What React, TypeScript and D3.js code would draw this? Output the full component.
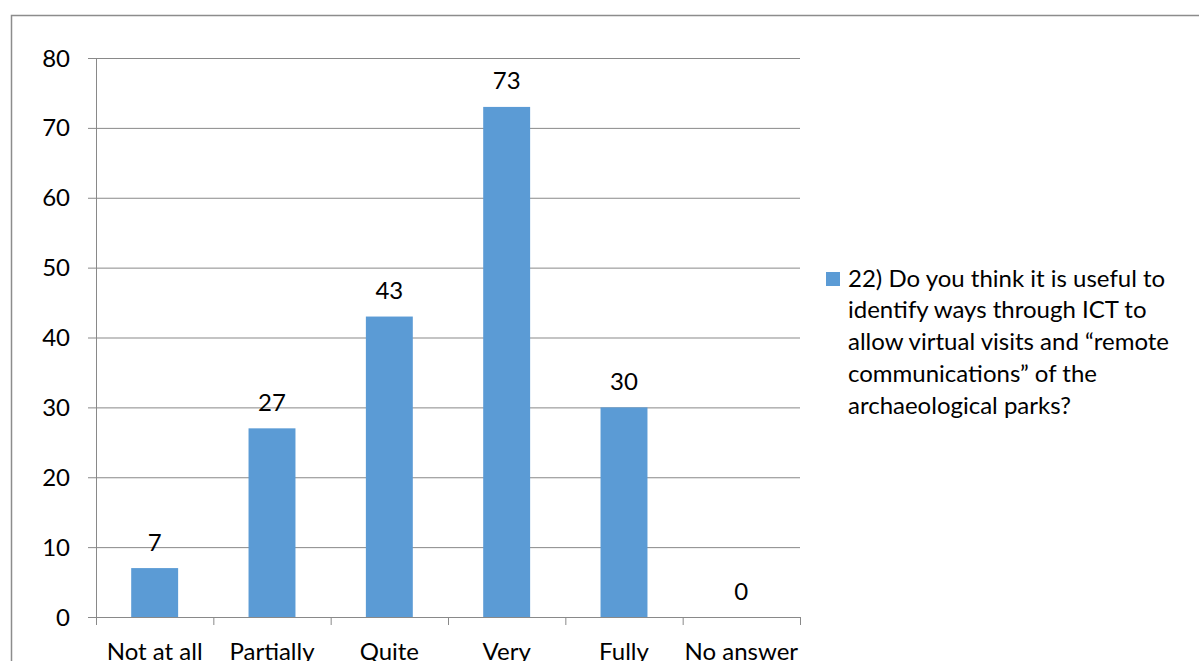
import React from "react";
import * as d3 from "d3";

const categories = ["Not at all", "Partially", "Quite", "Very", "Fully", "No answer"];
const values = [7, 27, 43, 73, 30, 0];
const yTicks = [0, 10, 20, 30, 40, 50, 60, 70, 80];
const legendLines = [
  "22) Do you think it is useful to",
  "identify ways through ICT to",
  "allow virtual visits and \u201cremote",
  "communications\u201d of the",
  "archaeological parks?",
];

const W = 1199;
const H = 661;
const plot = { left: 96, right: 800, top: 58, bottom: 617 };
const barColor = "#5b9bd5";
const gridColor = "#898989";
const font = "Lato, 'Open Sans', sans-serif";
const fs = 24;

export default function App() {
  const x = d3.scaleBand<string>().domain(categories).range([plot.left, plot.right]).paddingInner(0.6).paddingOuter(0.3);
  const xOuter = d3.scaleBand<string>().domain(categories).range([plot.left, plot.right]);
  const y = d3.scaleLinear().domain([0, 80]).range([plot.bottom, plot.top]);

  return (
    <svg width={W} height={H} style={{ position: "absolute", left: 0, top: 0, background: "#fff" }} fontFamily={font}>
      <rect x={11.5} y={15.5} width={W + 10} height={H + 10} fill="none" stroke="#8c8c8c" strokeWidth={1.5} />
      {yTicks.map((t) => (
        <g key={t}>
          <line x1={plot.left - 8} x2={plot.right} y1={y(t) + 0.5} y2={y(t) + 0.5} stroke={gridColor} strokeWidth={1} />
          <text x={70} y={y(t) + 8.5} textAnchor="end" fontSize={fs} fill="#000">{t}</text>
        </g>
      ))}
      <line x1={plot.left + 0.5} x2={plot.left + 0.5} y1={plot.top} y2={plot.bottom + 8} stroke={gridColor} />
      {categories.map((c) => (
        <line key={"t" + c} x1={xOuter(c)! + xOuter.bandwidth() + 0.5} x2={xOuter(c)! + xOuter.bandwidth() + 0.5} y1={plot.bottom} y2={plot.bottom + 8} stroke={gridColor} />
      ))}
      {categories.map((c, i) => (
        <g key={c}>
          <rect x={x(c)} y={y(values[i])} width={x.bandwidth()} height={plot.bottom - y(values[i])} fill={barColor} />
          <text x={x(c)! + x.bandwidth() / 2} y={y(values[i]) - 17.5} textAnchor="middle" fontSize={fs} fill="#000">{values[i]}</text>
          <text x={xOuter(c)! + xOuter.bandwidth() / 2} y={660} textAnchor="middle" fontSize={fs} fill="#000">{c}</text>
        </g>
      ))}
      <rect x={826} y={272} width={14} height={14} fill={barColor} />
      {legendLines.map((l, i) => (
        <text key={i} x={848} y={286.7 + i * 31.7} fontSize={fs} fill="#000">{l}</text>
      ))}
    </svg>
  );
}
